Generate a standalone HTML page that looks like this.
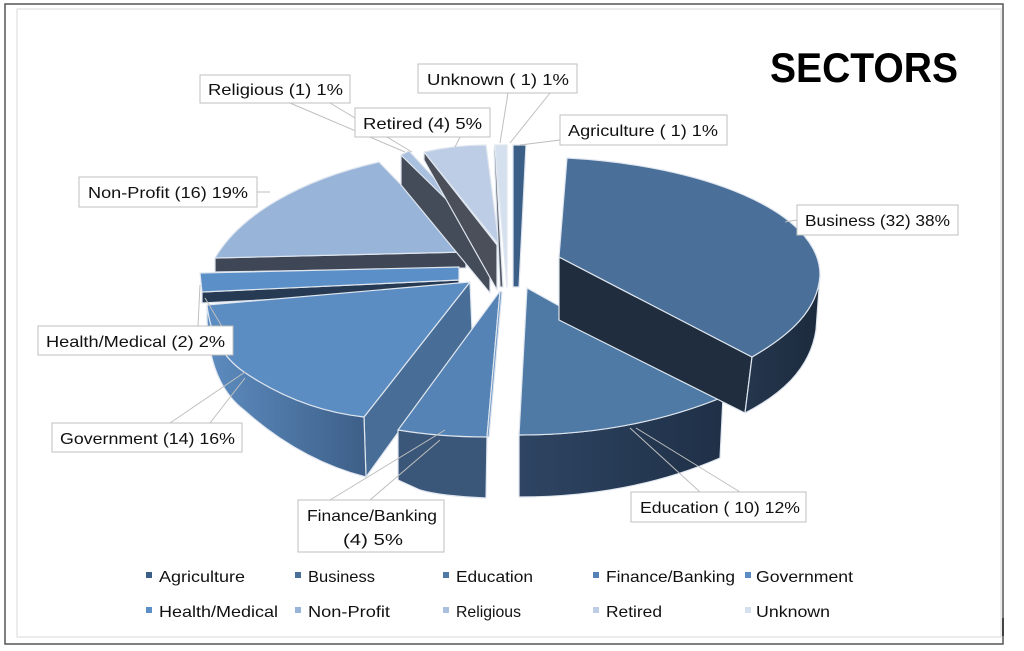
<!DOCTYPE html>
<html><head><meta charset="utf-8"><style>
html,body{margin:0;padding:0;background:#fff;}
svg{display:block}
text{font-family:"Liberation Sans Narrow","Liberation Sans",sans-serif;font-size:16px;fill:#111;}
</style></head><body>
<svg width="1024" height="651" viewBox="0 0 1024 651">
<defs>
<linearGradient id="gov" x1="0" x2="1" y1="0" y2="0"><stop offset="0" stop-color="#5d8cc0"/><stop offset="1" stop-color="#3d5f88"/></linearGradient>
<linearGradient id="edu" x1="0" x2="1"><stop offset="0" stop-color="#2e4563"/><stop offset="1" stop-color="#1f3047"/></linearGradient>
<linearGradient id="bus" x1="0" x2="1"><stop offset="0" stop-color="#25374e"/><stop offset="1" stop-color="#1c2a3c"/></linearGradient>
</defs>
<rect x="5" y="4" width="998" height="640" fill="none" stroke="#555" stroke-width="1.5"/>
<rect x="17" y="9" width="984" height="628" fill="none" stroke="#d9d9d9" stroke-width="1"/>
<line x1="1003" y1="618" x2="1003" y2="636" stroke="#222" stroke-width="1.5"/>
<text x="770" y="82" textLength="188" lengthAdjust="spacingAndGlyphs" style="font-size:42px;font-weight:bold;fill:#000">SECTORS</text>

<g stroke="#dfe6ef" stroke-width="1.2" stroke-linejoin="round">
<path d="M215,258 L466,252 L466,268 L215,272 Z" fill="#3f4756"/>
<path d="M466,252 L379,162 C300,180 240,215 215,258 Z" fill="#98b5d9"/>
<path d="M401,155 L490,242 L490,293 L401,185 Z" fill="#444c59"/>
<path d="M401,155 L409,151 L492,240 L490,242 Z" fill="#a9c0de"/>
<path d="M424,152 L497,245 L497,290 L424,160 Z" fill="#4a4f5a"/>
<path d="M424,152 Q455,145 486,145 L499,245 Z" fill="#bdcde5"/>
<path d="M495,145 L503,287 L500,287 L494,150 Z" fill="#555a63"/>
<path d="M495,145 L507,145 L507,287 Z" fill="#d5e0ef"/>
<path d="M513,145 L526,145 L519,287 L513,287 Z" fill="#3c5f88"/>
<path d="M202,292 L459,280 L459,290 L202,303 Z" fill="#263a53"/>
<path d="M200,273 L459,267 L459,280 L202,292 Z" fill="#5b8fc8"/>
<path d="M470,282 L472,330 L366,477 L364,417 Z" fill="#486d96"/>
<path d="M207,305 Q205,380 244,410 Q300,460 366,477 L364,417 Q260,395 213,330 Z" fill="url(#gov)"/>
<path d="M470,282 L207,305 Q212,350 244,372 Q300,410 364,417 Z" fill="#5b8cc2"/>
<path d="M398,430 L487,437 L486,498 Q440,496 420,490 L398,480 Z" fill="#3a5678"/>
<path d="M500,291 L398,430 Q440,437 487,437 Z" fill="#5583b5"/>
<path d="M500,291 L502,292 L489,437 L487,437 Z" fill="#6a93c3"/>
<path d="M519,435 Q630,435 723,397 L720,458 Q630,497 519,497 Z" fill="url(#edu)"/>
<path d="M527,288 L519,435 Q630,435 723,397 Z" fill="#4f7aa6"/>
<path d="M559,257 L752,357 L745,413 L559,320 Z" fill="#1f2d3f"/>
<path d="M752,357 C790,335 818,310 820,275 L816,330 C810,370 780,395 745,413 Z" fill="url(#bus)"/>
<path d="M559,257 L567,158 C700,165 820,210 820,275 C818,310 790,335 752,357 Z" fill="#4a6f98"/>
</g>

<g stroke="#bfbfbf" stroke-width="1" fill="none">
<path d="M290,103 L405,152"/><path d="M330,103 L412,152"/>
<path d="M460,137 L455,147"/>
<path d="M508,93 L500,143"/><path d="M550,93 L510,143"/>
<path d="M560,140 L520,145"/>
<path d="M257,192 L270,192"/>
<path d="M797,220 L785,222"/>
<path d="M198,326 L200,285"/><path d="M230,340 L205,298"/>
<path d="M170,423 L245,372"/><path d="M210,423 L245,378"/>
<path d="M330,500 L445,430"/><path d="M370,500 L440,440"/>
<path d="M700,492 L630,428"/><path d="M740,492 L636,428"/>
</g>
<g fill="#fff" stroke="#bfbfbf" stroke-width="1">
<rect x="200" y="75" width="150" height="28"/>
<rect x="418" y="64" width="159" height="29"/>
<rect x="355" y="108" width="135" height="29"/>
<rect x="560" y="115" width="167" height="30"/>
<rect x="79" y="177" width="178" height="30"/>
<rect x="797" y="205" width="161" height="30"/>
<rect x="38" y="326" width="195" height="29"/>
<rect x="52" y="423" width="190" height="29"/>
<rect x="298" y="500" width="146" height="52"/>
<rect x="631" y="492" width="175" height="30"/>
</g>
<g>
<text x="208" y="95" textLength="135" lengthAdjust="spacingAndGlyphs">Religious  (1)  1%</text>
<text x="427" y="85" textLength="142" lengthAdjust="spacingAndGlyphs">Unknown ( 1)  1%</text>
<text x="363" y="129" textLength="119" lengthAdjust="spacingAndGlyphs">Retired (4)  5%</text>
<text x="568" y="136" textLength="150" lengthAdjust="spacingAndGlyphs">Agriculture ( 1)  1%</text>
<text x="88" y="198" textLength="160" lengthAdjust="spacingAndGlyphs">Non-Profit  (16)  19%</text>
<text x="805" y="226" textLength="145" lengthAdjust="spacingAndGlyphs">Business (32)  38%</text>
<text x="46" y="347" textLength="179" lengthAdjust="spacingAndGlyphs">Health/Medical (2)  2%</text>
<text x="60" y="444" textLength="175" lengthAdjust="spacingAndGlyphs">Government (14)  16%</text>
<text x="307" y="521" textLength="130" lengthAdjust="spacingAndGlyphs">Finance/Banking</text>
<text x="343" y="545" textLength="60" lengthAdjust="spacingAndGlyphs">(4)  5%</text>
<text x="640" y="513" textLength="160" lengthAdjust="spacingAndGlyphs">Education ( 10)  12%</text>
</g>
<g>
<rect x="146" y="572" width="6" height="6" fill="#3c5f88"/><text x="159" y="582" textLength="86" lengthAdjust="spacingAndGlyphs">Agriculture</text>
<rect x="295" y="572" width="6" height="6" fill="#4a6f98"/><text x="308" y="582" textLength="67" lengthAdjust="spacingAndGlyphs">Business</text>
<rect x="443" y="572" width="6" height="6" fill="#4f7aa6"/><text x="456" y="582" textLength="77" lengthAdjust="spacingAndGlyphs">Education</text>
<rect x="593" y="572" width="6" height="6" fill="#5583b5"/><text x="606" y="582" textLength="129" lengthAdjust="spacingAndGlyphs">Finance/Banking</text>
<rect x="745" y="572" width="6" height="6" fill="#5b8cc2"/><text x="756" y="582" textLength="97" lengthAdjust="spacingAndGlyphs">Government</text>
<rect x="146" y="607" width="6" height="6" fill="#5b8fc8"/><text x="159" y="617" textLength="119" lengthAdjust="spacingAndGlyphs">Health/Medical</text>
<rect x="295" y="607" width="6" height="6" fill="#98b5d9"/><text x="308" y="617" textLength="82" lengthAdjust="spacingAndGlyphs">Non-Profit</text>
<rect x="443" y="607" width="6" height="6" fill="#a9c0de"/><text x="456" y="617" textLength="65" lengthAdjust="spacingAndGlyphs">Religious</text>
<rect x="593" y="607" width="6" height="6" fill="#bdcde5"/><text x="606" y="617" textLength="56" lengthAdjust="spacingAndGlyphs">Retired</text>
<rect x="745" y="607" width="6" height="6" fill="#d5e0ef"/><text x="756" y="617" textLength="74" lengthAdjust="spacingAndGlyphs">Unknown</text>
</g>
</svg>
</body></html>
